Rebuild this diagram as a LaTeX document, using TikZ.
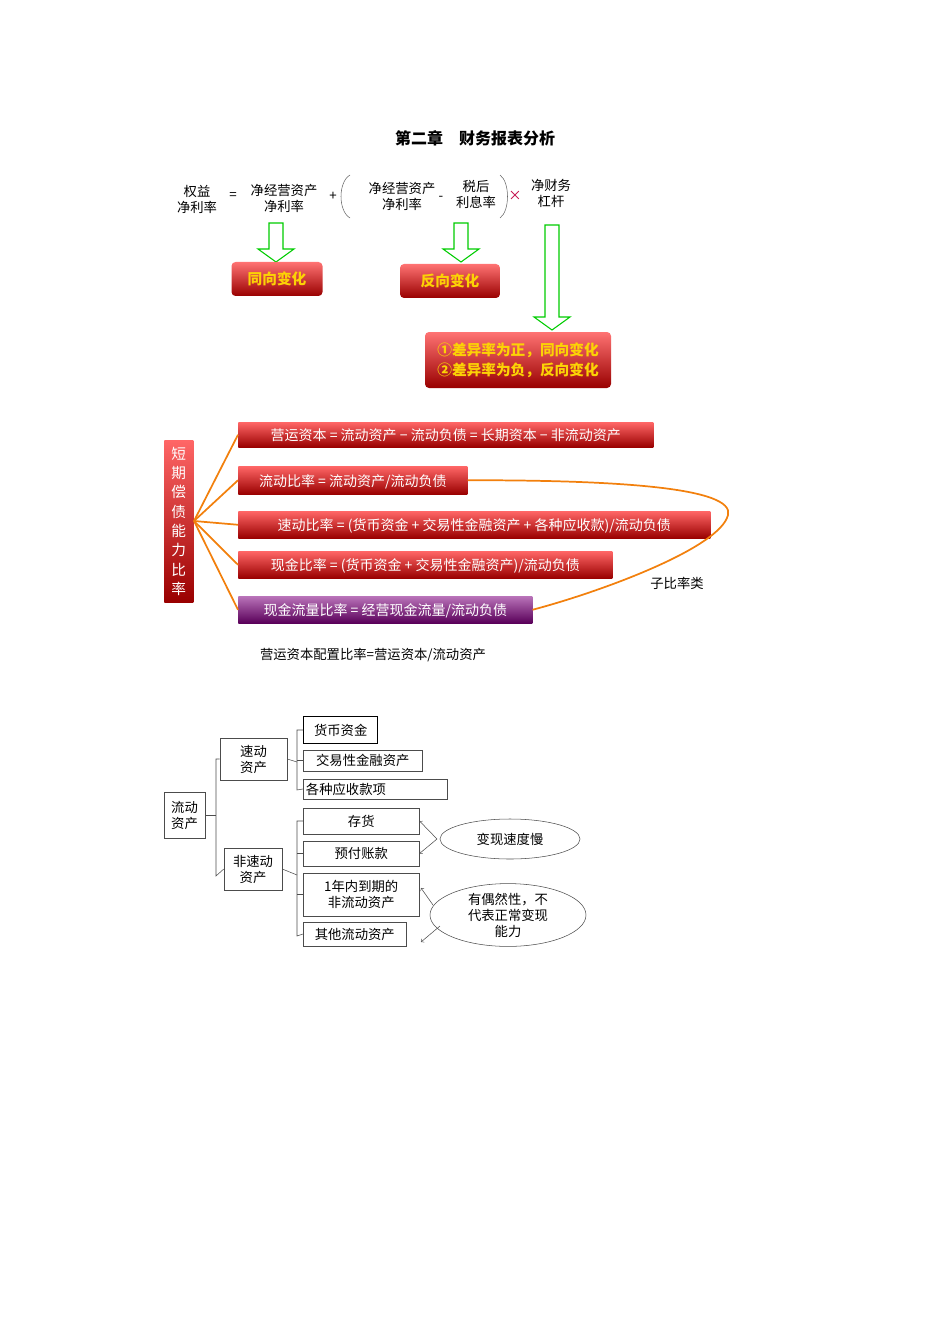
\documentclass[tikz,border=0pt]{standalone}
\usepackage{fontspec}
\setmainfont{Noto Sans CJK SC}
\usetikzlibrary{shapes.geometric}
\def\px{0.75pt}
\begin{document}
\begin{tikzpicture}[x=0.75pt,y=-0.75pt,
    every node/.style={inner sep=0pt,font=\fontsize{10}{12}\selectfont},
    redbox/.style={rounded corners=3pt,top color=red!55!white,bottom color=red!60!black,
      text=yellow!70!orange,font=\fontsize{11}{15}\selectfont\bfseries,drop shadow/.style={}},
    bar/.style={anchor=north west,top color=red!60!white,bottom color=red!60!black,
      text=white,font=\fontsize{10.5}{12}\selectfont,text depth=0pt,align=left,inner xsep=5pt},
    tree/.style={draw=black!70,thin,align=center,inner sep=2pt},
    branch/.style={orange!80!brown,line width=1.3pt},
    hollow/.style={draw=green!80!black,fill=white,line width=0.8pt}]
\useasboundingbox (0,0) rectangle (950,1344);
% title
\node[font=\fontsize{12}{14}\selectfont\bfseries] (title) at (475,138) {第二章\quad 财务报表分析};
% formula
\node[align=center] (roe) at (197,199) {权益\\净利率};
\node (eq) at (233,196) {=};
\node[align=center] (rnoa) at (284,198) {净经营资产\\净利率};
\node (plus) at (333,196) {+};
\draw[black!60] (350,175) .. controls (338,182) and (338,211) .. (350,218);
\node[align=center] (rnoa2) at (402,196) {净经营资产\\净利率};
\node (minus) at (441,198) {-};
\node[align=center] (rate) at (476,194) {税后\\利息率};
\draw[black!60] (500,175) .. controls (510,182) and (510,211) .. (500,218);
\node[text=purple] (times) at (515,196) {×};
\node[align=center] (lev) at (551,193) {净财务\\杠杆};
% hollow arrows
\newcommand\hollowarrow[3]{%
  \draw[hollow] (#1-7,#2) -- (#1+7,#2) -- (#1+7,#3-13) -- (#1+18,#3-13) -- (#1,#3)
    -- (#1-18,#3-13) -- (#1-7,#3-13) -- cycle;}
\hollowarrow{276}{223}{262}
\hollowarrow{461}{223}{262}
\hollowarrow{552}{225}{330}
\node[redbox,minimum width=91*\px,minimum height=34*\px] (same) at (277,279) {同向变化};
\node[redbox,minimum width=100*\px,minimum height=34*\px] (opp) at (450,281) {反向变化};
\node[redbox,minimum width=186*\px,minimum height=56*\px,align=left] (diff) at (518,360)
  {①差异率为正，同向变化\\②差异率为负，反向变化};
% short-term ratios
\node[anchor=north west,top color=red!60!white,bottom color=red!60!black,text=white,
  minimum width=29*\px,minimum height=162*\px,align=center,
  font=\fontsize{11}{14.5}\selectfont] (short) at (164,440) {短\\期\\偿\\债\\能\\力\\比\\率};
\node[bar,minimum width=415*\px,minimum height=25*\px] (b1) at (238,422) {营运资本 = 流动资产 − 流动负债 = 长期资本 − 非流动资产};
\node[bar,minimum width=229*\px,minimum height=28*\px] (b2) at (238,466) {流动比率 = 流动资产/流动负债};
\node[bar,minimum width=472*\px,minimum height=27*\px] (b3) at (238,511) {速动比率 = (货币资金 + 交易性金融资产 + 各种应收款)/流动负债};
\node[bar,minimum width=374*\px,minimum height=27*\px] (b4) at (238,551) {现金比率 = (货币资金 + 交易性金融资产)/流动负债};
\node[bar,top color=violet!55!white,bottom color=violet!70!black,minimum width=294*\px,minimum height=27*\px] (b5) at (238,596) {现金流量比率 = 经营现金流量/流动负债};
\coordinate (hub) at (194,521);
\foreach \b in {b1,b2,b3,b4,b5} \draw[branch] (hub) -- (\b.west);
\draw[branch] (b2.east) .. controls (620,480) and (735,488) .. (728,515)
  .. controls (720,548) and (600,592) .. (b5.east);
\node (sub) at (677,583) {子比率类};
\node (wcr) at (373,655) {营运资本配置比率=营运资本/流动资产};
% current assets tree
\node[tree,minimum width=41*\px,minimum height=46*\px] (ca) at (184.5,815) {流动\\资产};
\node[tree,minimum width=67*\px,minimum height=42*\px] (quick) at (253.5,759) {速动\\资产};
\node[tree,minimum width=58*\px,minimum height=42*\px] (nquick) at (253,869) {非速动\\资产};
\node[tree,anchor=west,draw=black,line width=1pt,minimum width=74*\px,minimum height=27*\px] (cash) at (303,730) {货币资金};
\node[tree,anchor=west,minimum width=119*\px,minimum height=21*\px] (trade) at (303,760.5) {交易性金融资产};
\node[tree,anchor=west,minimum width=131*\px,minimum height=20*\px,align=left] (recv) at (303,789) {各种应收款项\hspace{44pt}};
\node[tree,anchor=west,minimum width=116*\px,minimum height=26*\px] (inv) at (303,821) {存货};
\node[tree,anchor=west,minimum width=116*\px,minimum height=25*\px] (prepay) at (303,853.5) {预付账款};
\node[tree,anchor=west,minimum width=116*\px,minimum height=43*\px] (oneyr) at (303,894.5) {1年内到期的\\非流动资产};
\node[tree,anchor=west,minimum width=103*\px,minimum height=24*\px] (other) at (303,934) {其他流动资产};
\draw[black!70] (ca.east) -- (216,815);
\draw[black!70] (quick.west) -| (216,876) -- (nquick.west);
\draw[black!70] (quick.east) -- (297,762);
\draw[black!70] (cash.west) -| (297,790) -- (recv.west);
\draw[black!70] (297,760.5) -- (trade.west);
\draw[black!70] (nquick.east) -- (297,875);
\draw[black!70] (inv.west) -| (297,936) -- (other.west);
\draw[black!70] (297,853.5) -- (prepay.west);
\draw[black!70] (297,894.5) -- (oneyr.west);
\node[ellipse,draw=black!70,minimum width=140*\px,minimum height=40*\px] (slow) at (510,839) {变现速度慢};
\node[ellipse,draw=black!70,minimum width=156*\px,minimum height=60*\px,align=center] (chance) at (508,915) {有偶然性，不\\代表正常变现\\能力};
\coordinate (c1) at (437,839);
\coordinate (c2) at (433,905);
\coordinate (c3) at (440,926);
\draw[->,black!70] (c1) -- (inv.east);
\draw[->,black!70] (c1) -- (prepay.east);
\draw[->,black!70] (c2) -- (421,888);
\draw[->,black!70] (c3) -- (421,942);
\end{tikzpicture}
\end{document}
